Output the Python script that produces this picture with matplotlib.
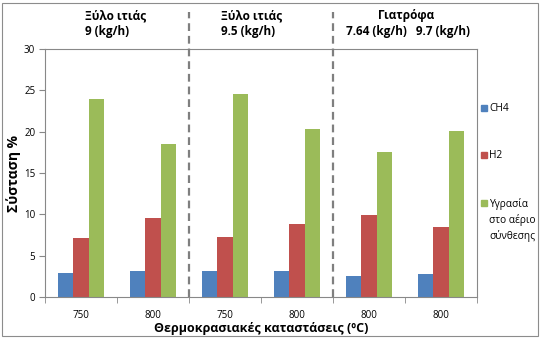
import matplotlib
matplotlib.use("Agg")
import matplotlib.pyplot as plt
import numpy as np
from matplotlib.patches import Rectangle

plt.rcParams["font.family"] = ["Open Sans", "DejaVu Sans"]

# Operating points (temperature, °C) and measured gas composition (%)
temps = ["750", "800", "750", "800", "800", "800"]
series_names = ["CH4", "H2", "Υγρασία\nστο αέριο\nσύνθεσης"]
ch4 = [2.9, 3.2, 3.2, 3.2, 2.5, 2.8]
h2 = [7.1, 9.5, 7.2, 8.8, 9.9, 8.5]
moisture = [23.9, 18.5, 24.5, 20.3, 17.5, 20.1]
colors = ["#4F81BD", "#C0504D", "#9BBB59"]

W, H = 541, 339


def fx(x):
    return x / W


def fy(y):
    return 1 - y / H


fig = plt.figure(figsize=(W / 100, H / 100), dpi=100)
ax = fig.add_axes([fx(45), fy(297), fx(477) - fx(45), fy(49) - fy(297)])

x = np.arange(len(temps))
w = 0.217
for i, (vals, c) in enumerate(zip([ch4, h2, moisture], colors)):
    ax.bar(x + (i - 1) * w, vals, width=w, color=c, zorder=2)

ax.set_xlim(-0.5, len(temps) - 0.5)
ax.set_ylim(0, 30)
ax.set_yticks(range(0, 31, 5))
ax.set_xticks(x)
ax.set_xticklabels(temps, fontsize=7)
ax.set_xticks(np.arange(-0.5, len(temps)), minor=True)
ax.tick_params(axis="x", which="major", length=0, pad=9)
ax.tick_params(axis="x", which="minor", length=4, color="#888888")
ax.tick_params(axis="y", length=4, labelsize=7, color="#888888", pad=3)
for s in ax.spines.values():
    s.set_color("#888888")
    s.set_linewidth(0.8)

ax.set_ylabel("Σύσταση %", fontsize=10, fontweight="bold", labelpad=2)
ax.set_xlabel("Θερμοκρασιακές καταστάσεις (ºC)", fontsize=9,
              fontweight="bold", labelpad=1)

# Separators between the fuel / feed-rate groups
trans = ax.get_xaxis_transform()
for xb in [1.5, 3.5]:
    ax.plot([xb, xb], [0, 1.15], transform=trans, color="#7f7f7f",
            lw=1.6, ls=(0, (3.5, 2.2)), clip_on=False, zorder=3)

# Group headings
hdr = dict(fontsize=8.5, fontweight="bold", ha="left", va="center")
fig.text(fx(85), fy(16), "Ξύλο ιτιάς", **hdr)
fig.text(fx(85), fy(31), "9 (kg/h)", **hdr)
fig.text(fx(221), fy(16), "Ξύλο ιτιάς", **hdr)
fig.text(fx(221), fy(31), "9.5 (kg/h)", **hdr)
fig.text(fx(378), fy(16), "Γιατρόφα", **hdr)
fig.text(fx(346), fy(31), "7.64 (kg/h)   9.7 (kg/h)", **hdr)

# Legend keys
leg_y = [108, 155, 203]
for name, c, ly in zip(series_names, colors, leg_y):
    fig.add_artist(Rectangle((fx(481), fy(ly + 3)), fx(6), 6 / H,
                             color=c, transform=fig.transFigure))
    fig.text(fx(489), fy(ly - 5), name, fontsize=7.3, ha="left", va="top",
             linespacing=1.45)

# Chart border
fig.add_artist(Rectangle((fx(2), fy(336)), fx(536), 333 / H, fill=False,
                         ec="#8c8c8c", lw=0.8, transform=fig.transFigure))

fig.savefig("out.png", dpi=100)
